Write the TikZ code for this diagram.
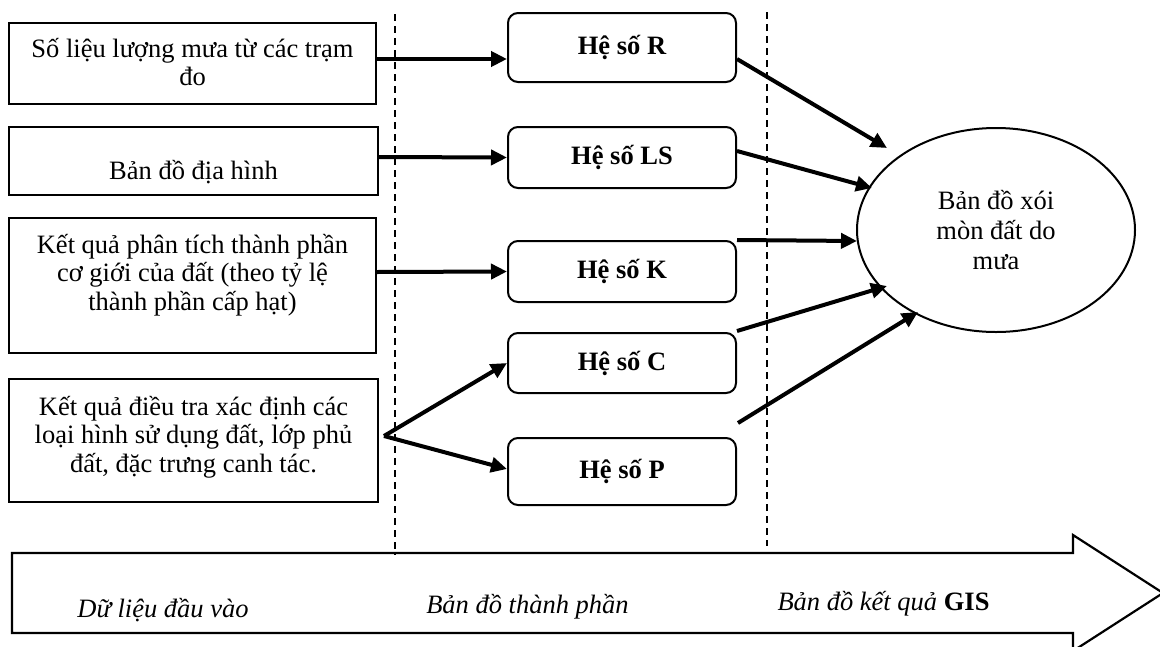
\documentclass[tikz,border=0pt]{standalone}
\usepackage{fontspec}
\setmainfont{Liberation Serif}
\usetikzlibrary{shapes.geometric,arrows.meta,calc}
\begin{document}
\begin{tikzpicture}[x=1pt,y=-1pt,
  every node/.style={font=\fontsize{26.5}{28.5}\selectfont},
  inbox/.style={draw,line width=2pt,inner sep=0pt},
  intext/.style={align=center,inner sep=0pt},
  coef/.style={draw,line width=2pt,rounded corners=10pt,minimum width=228pt,
    inner sep=0pt,font=\fontsize{26.5}{28.5}\selectfont\bfseries},
  result/.style={draw,ellipse,line width=2pt,minimum width=278pt,minimum height=204pt,
    inner sep=0pt,align=center,font=\fontsize{26.5}{30}\selectfont},
  arr/.style={line width=4pt,-{Triangle[length=16pt,width=15pt]}},
  divider/.style={line width=1.5pt,dash pattern=on 7pt off 5pt},
  stage/.style={anchor=base,inner sep=0pt,font=\fontsize{26.5}{28.5}\selectfont\itshape}]
\useasboundingbox (0,0) rectangle (1160,646);

% timeline arrow along the bottom
\draw[line width=2.2pt] (12,553) -- (1073,553) -- (1073,535) -- (1163,593)
  -- (1073,651) -- (1073,633) -- (12,633) -- cycle;
\node[stage] (s1) at (163,617) {Dữ liệu đầu vào};
\node[stage] (s2) at (527.5,613) {Bản đồ thành phần};
\node[stage] (s3) at (883.5,610) {Bản đồ kết quả \textup{\bfseries GIS}};

% stage separators
\draw[divider] (395,14) -- (395,555);
\draw[divider] (767,12) -- (767,546);

% input data
\node[inbox,minimum width=367pt,minimum height=81pt] (in1) at (192.5,63.5) {};
\node[intext] (t1) at (192.5,62) {Số liệu lượng mưa từ các trạm\\đo};
\node[inbox,minimum width=369pt,minimum height=68pt] (in2) at (193.5,161) {};
\node[intext,anchor=base] (t2) at (193.5,179) {Bản đồ địa hình};
\node[inbox,minimum width=367pt,minimum height=135pt] (in3) at (192.5,285.5) {};
\node[intext] (t3) at (192.5,275) {Kết quả phân tích thành phần\\cơ giới của đất (theo tỷ lệ\\thành phần cấp hạt)};
\node[inbox,minimum width=369pt,minimum height=123pt] (in4) at (193.5,440.5) {};
\node[intext] (t4) at (193.5,437) {Kết quả điều tra xác định các\\loại hình sử dụng đất, lớp phủ\\đất, đặc trưng canh tác.};

% factor maps
\node[coef,minimum height=69pt] (R) at (622,47.5) {Hệ số R};
\node[coef,minimum height=61pt] (LS) at (622,157.5) {Hệ số LS};
\node[coef,minimum height=61pt] (K) at (622,271.5) {Hệ số K};
\node[coef,minimum height=60pt] (C) at (622,363) {Hệ số C};
\node[coef,minimum height=67pt] (P) at (622,471.5) {Hệ số P};

% resulting map
\node[result] (E) at (996,230) {Bản đồ xói\\mòn đất do\\mưa};

% inputs to factors
\draw[arr] ([yshift=4.5pt]in1.east) -- ([yshift=-11.5pt]R.west);
\draw[arr] ([yshift=4pt]in2.east) -- (LS.west);
\draw[arr] ([yshift=13.5pt]in3.east) -- (K.west);
\coordinate (split) at ([xshift=5pt,yshift=4.5pt]in4.east);
\draw[arr] (split) -- (C.west);
\draw[arr] (split) -- ([yshift=2.5pt]P.west);

% factors to the erosion map
\draw[arr] ([yshift=-11.5pt]R.east) -- ([shift={(-109,-82)}]E.center);
\draw[arr] ([yshift=6.5pt]LS.east) -- ([shift={(-124,-42)}]E.center);
\draw[arr] (K.north east) -- ([shift={(-139,11)}]E.center);
\draw[arr] ([yshift=1pt]C.north east) -- ([shift={(-109,56)}]E.center);
\draw[arr] ([xshift=1pt,yshift=14pt]P.north east) -- ([shift={(-78,82)}]E.center);
\end{tikzpicture}
\end{document}
